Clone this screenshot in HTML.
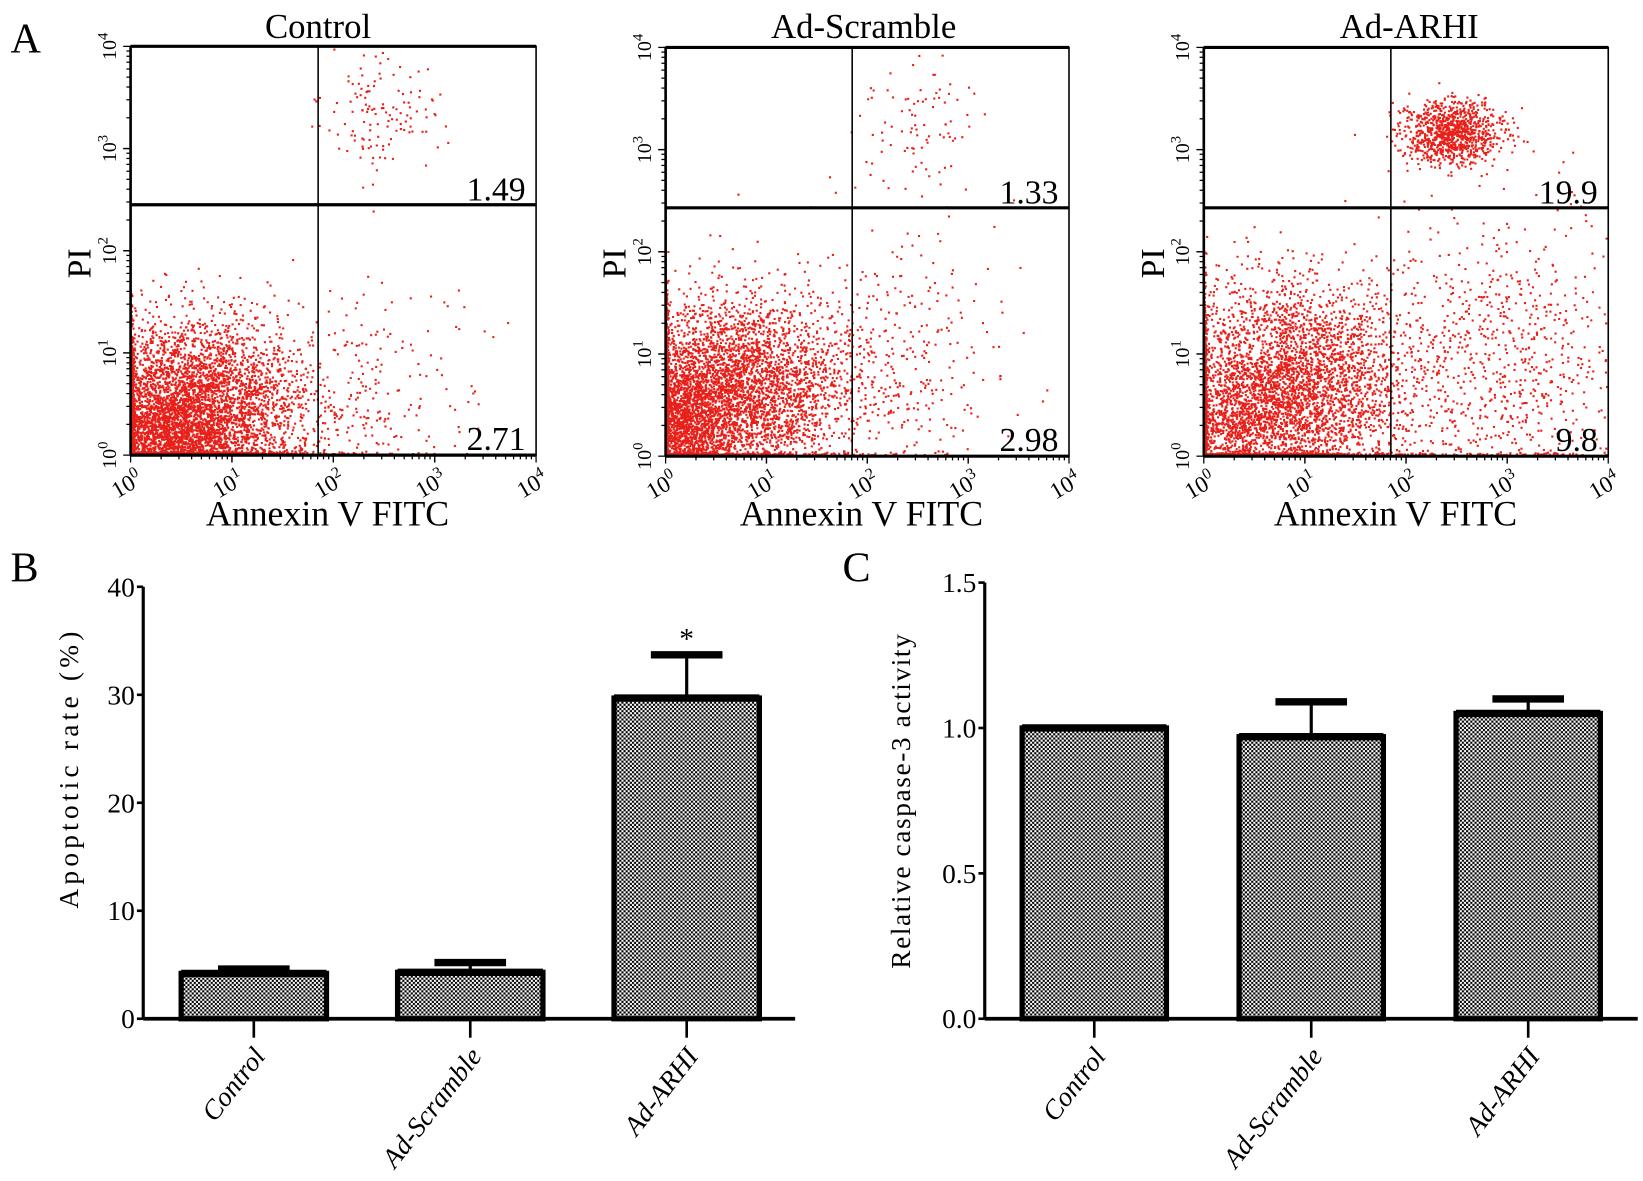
<!DOCTYPE html>
<html><head><meta charset="utf-8"><style>
html,body{margin:0;padding:0;background:#fff}
svg{display:block}
text{font-family:"Liberation Serif",serif;fill:#000}
</style></head><body>
<svg id="fig" xmlns="http://www.w3.org/2000/svg" width="1643" height="1181" viewBox="0 0 1560 1121" preserveAspectRatio="none">
<defs>
<pattern id="chk" width="4" height="4" patternUnits="userSpaceOnUse">
<rect width="4" height="4" fill="#fff"/><rect width="2" height="2" fill="#000"/><rect x="2" y="2" width="2" height="2" fill="#000"/>
</pattern>
</defs>
<g id="flow"></g>
<g id="bars"></g>
</svg>
<script>
const NS="http://www.w3.org/2000/svg";
const svg=document.getElementById('fig');
function mk(tag,attrs,parent,txt){const e=document.createElementNS(NS,tag);for(const k in attrs)e.setAttribute(k,attrs[k]);if(txt!==undefined)e.textContent=txt;(parent||svg).appendChild(e);return e;}

// ---------- Panel A data ----------
const flowTitles=["Control","Ad-Scramble","Ad-ARHI"];
const flowURValues=["1.49","1.33","19.9"];
const flowLRValues=["2.71","2.98","9.8"];
const flowGateX=[1.85,1.85,1.85];
const flowGateY=[2.45,2.43,2.43];
// clusters: [centerLogX, centerLogY, sdX, sdY, count]
const clustersControl=[[0.6,0.45,0.55,0.42,4200],[0.3,0.15,0.4,0.25,1500],[2.5,3.3,0.3,0.3,130],[2.4,0.6,0.5,0.5,200]];
const clustersScramble=[[0.7,0.65,0.55,0.45,3800],[0.1,0.3,0.25,0.35,1800],[2.3,0.9,0.5,0.6,320],[2.5,3.2,0.35,0.35,90]];
const clustersARHI=[[0.9,0.7,0.6,0.5,3600],[0.3,0.3,0.4,0.3,1000],[2.45,3.15,0.25,0.16,1000],[3.0,0.9,0.6,0.7,750]];
const flowClusters=[clustersControl,clustersScramble,clustersARHI];
const flowBoxes=[[124,44,509,432],[632,45,1015,433],[1143,45,1527,433]];

let seed=12345;
function rnd(){seed|=0;seed=seed+0x6D2B79F5|0;let t=Math.imul(seed^seed>>>15,1|seed);t=t+Math.imul(t^t>>>7,61|t)^t;return((t^t>>>14)>>>0)/4294967296;}
function gauss(){let u=0,v=0;while(u===0)u=rnd();v=rnd();return Math.sqrt(-2*Math.log(u))*Math.cos(2*Math.PI*v);}

const flowG=document.getElementById('flow');
flowBoxes.forEach((b,i)=>{
  const [x0,y0,x1,y1]=b;
  const g=mk('g',{},flowG);
  
  
  const sx=l=>x0+l*(x1-x0)/4, sy=l=>y1-l*(y1-y0)/4;
  let d='';
  flowClusters[i].forEach(c=>{
    for(let k=0;k<c[4];k++){
      let lx=c[0]+gauss()*c[2], ly=c[1]+gauss()*c[3];
      if(lx<0)lx=Math.max(0,-lx*0.03);
      if(ly<0)ly=Math.max(0,-ly*0.03);
      if(lx>3.98||ly>3.98)continue;
      const px=sx(lx),py=sy(ly);
      d+='M'+px.toFixed(1)+' '+(py-2).toFixed(1)+'h2v2h-2z';
    }
  });
  const pts=mk('path',{d:d,fill:'#e8201a'},g);
  
  
  mk('rect',{x:x0,y:y0,width:x1-x0,height:y1-y0,fill:'none',stroke:'#000','stroke-width':1.5},g);
  mk('line',{x1:x0,y1:y0,x2:x1,y2:y0,stroke:'#000','stroke-width':3},g);
  mk('line',{x1:x0,y1:y1,x2:x1,y2:y1,stroke:'#000','stroke-width':3},g);
  mk('line',{x1:x0,y1:y0,x2:x0,y2:y1,stroke:'#000','stroke-width':2.5},g);
  const gx=sx(flowGateX[i]), gy=sy(flowGateY[i]);
  mk('line',{x1:gx,y1:y0,x2:gx,y2:y1,stroke:'#000','stroke-width':1.5},g);
  mk('line',{x1:x0,y1:gy,x2:x1,y2:gy,stroke:'#000','stroke-width':3},g);
  for(let dcd=0;dcd<4;dcd++){for(let m=1;m<=10;m++){
    const l=dcd+Math.log10(m); const len=(m===1||m===10)?7:4;
    mk('line',{x1:sx(l),y1:y1,x2:sx(l),y2:y1+len,stroke:'#000','stroke-width':1.2},g);
    mk('line',{x1:x0,y1:sy(l),x2:x0-len,y2:sy(l),stroke:'#000','stroke-width':1.2},g);
  }}
  for(let p=0;p<=4;p++){
    const tx=sx(p), ty=y1+34;
    const t=mk('text',{x:tx,y:ty,'font-size':22,'text-anchor':'middle',transform:`rotate(-30 ${tx} ${ty})`},g);
    t.innerHTML='10<tspan dy="-9" font-size="15">'+p+'</tspan>';
    
    
    const ux=x0-14, uy=sy(p);
    const t2=mk('text',{x:ux,y:uy,'font-size':19,'text-anchor':'middle',transform:`rotate(-90 ${ux} ${uy})`,'font-family':'Liberation Sans'},g);
    t2.innerHTML='10<tspan dy="-8" font-size="14">'+p+'</tspan>';
    
    
  }
  const tcx=[302,820,1338][i];
  const ttl=mk('text',{x:tcx,y:36,'font-size':33,'text-anchor':'middle'},g,flowTitles[i]);
  
  
  const acx=[311,818,1325][i];
  const xl=mk('text',{x:acx,y:499,'font-size':34,'text-anchor':'middle'},g,'Annexin V FITC');
  
  
  const yl=mk('text',{x:x0-48,y:240,'font-size':32,'text-anchor':'middle',transform:`rotate(-90 ${x0-48+10} 240)`},g,'PI');
  
  
  const ur=mk('text',{x:x1-10,y:gy-4,'font-size':32,'text-anchor':'end'},g,flowURValues[i]);
  
  
  const lr=mk('text',{x:x1-10,y:y1-5,'font-size':32,'text-anchor':'end'},g,flowLRValues[i]);
  
  
});
const la=mk('text',{x:10,y:50,'font-size':40},flowG,'A');



// ---------- Panel B & C data ----------
const barCategories=["Control","Ad-Scramble","Ad-ARHI"];
const apoptoticMeans=[4.2,4.3,29.7];
const apoptoticErr=[0.4,0.9,4.0];
const apoptoticTicks=[0,10,20,30,40];
const caspaseMeans=[1.0,0.97,1.05];
const caspaseErr=[0.0,0.12,0.05];
const caspaseTicks=["0.0","0.5","1.0","1.5"];

const barsG=document.getElementById('bars');
function barChart(cfg){
  const g=mk('g',{},barsG);
  
  
  const sy=v=>cfg.y0-(v-0)/(cfg.max)*(cfg.y0-cfg.yTop);
  cfg.means.forEach((m,i)=>{
    const cx=cfg.ax+cfg.firstCenter+i*cfg.step;
    const bw=cfg.bw;
    const top=sy(m);
    if(cfg.err[i]>0){
      const et=sy(m+cfg.err[i]);
      const el=mk('line',{x1:cx,y1:top,x2:cx,y2:et,stroke:'#000','stroke-width':3},g);
      
      
      mk('line',{x1:cx-34,y1:et,x2:cx+34,y2:et,stroke:'#000','stroke-width':7},g);
    }
    const r=mk('rect',{x:cx-bw/2,y:top,width:bw,height:cfg.y0-top,fill:'url(#chk)',stroke:'#000','stroke-width':5},g);
    
    
    mk('line',{x1:cx-bw/2,y1:top,x2:cx+bw/2,y2:top,stroke:'#000','stroke-width':7},g);
    mk('line',{x1:cx,y1:cfg.y0,x2:cx,y2:cfg.y0+18,stroke:'#000','stroke-width':2.5},g);
    const lx=cx+12, ly=cfg.y0+36;
    const t=mk('text',{x:lx,y:ly,'font-size':26,'text-anchor':'end','font-style':'italic',transform:`rotate(-52 ${lx} ${ly})`},g,barCategories[i]);
    
    
    if(cfg.star&&cfg.star[i]){
      const s=mk('text',{x:cx,y:sy(m+cfg.err[i])-6,'font-size':28,'text-anchor':'middle'},g,'*');
      
      
    }
  });
  mk('line',{x1:cfg.ax,y1:cfg.yTop,x2:cfg.ax,y2:cfg.y0,stroke:'#000','stroke-width':3},g);
  mk('line',{x1:cfg.ax,y1:cfg.y0,x2:cfg.xEnd,y2:cfg.y0,stroke:'#000','stroke-width':3.5},g);
  cfg.ticks.forEach(tv=>{
    const y=sy(parseFloat(tv));
    mk('line',{x1:cfg.ax-6,y1:y,x2:cfg.ax,y2:y,stroke:'#000','stroke-width':2.5},g);
    const t=mk('text',{x:cfg.ax-8,y:y+9,'font-size':26,'text-anchor':'end'},g,String(tv));
    
    
  });
  const yl=mk('text',{x:cfg.titleX,y:cfg.titleY,'font-size':26,'letter-spacing':cfg.ls,'text-anchor':'middle',transform:`rotate(-90 ${cfg.titleX} ${cfg.titleY})`},g,cfg.title);
  
  
}
barChart({name:'apoptotic-rate-chart',ax:136,xEnd:755,y0:967,yTop:557,max:40,firstCenter:105,step:205.5,bw:138,means:apoptoticMeans,err:apoptoticErr,ticks:apoptoticTicks,title:'Apoptotic rate (%)',titleX:74,titleY:729,ls:4,star:[false,false,true]});
barChart({name:'caspase-activity-chart',ax:935,xEnd:1555,y0:967,yTop:553,max:1.5,firstCenter:104,step:206,bw:137,means:caspaseMeans,err:caspaseErr,ticks:caspaseTicks,title:'Relative caspase-3 activity',titleX:864,titleY:760,ls:1.5});
const lb=mk('text',{x:10,y:552,'font-size':40},barsG,'B');


const lc=mk('text',{x:800,y:552,'font-size':40},barsG,'C');


</script>
</body></html>
